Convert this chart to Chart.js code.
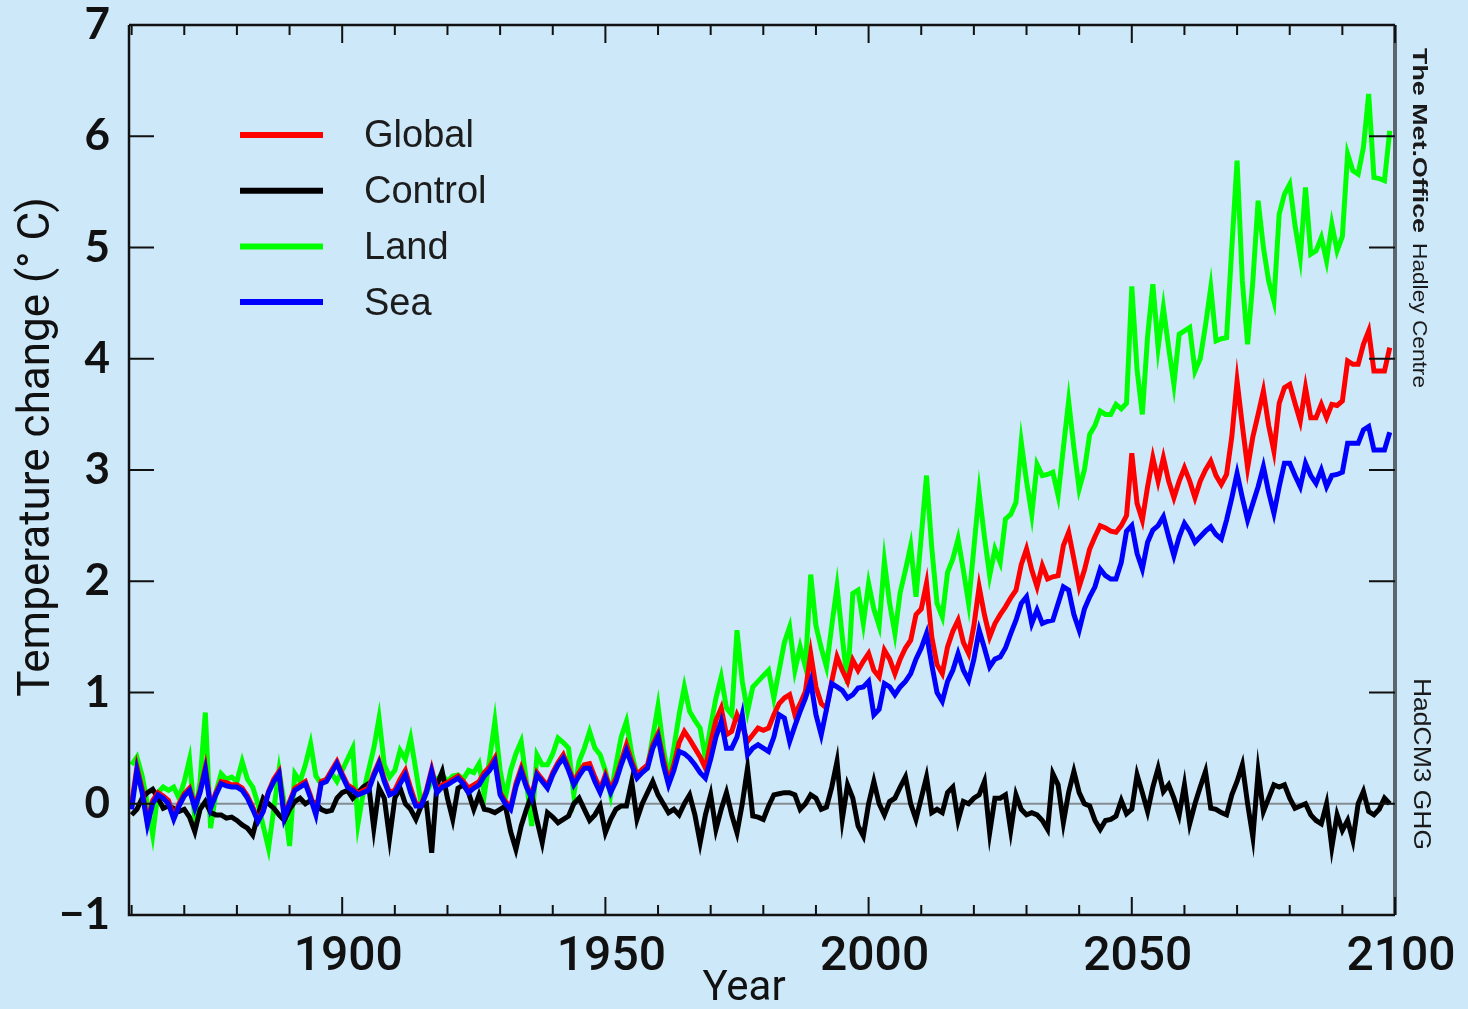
<!DOCTYPE html>
<html>
<head>
<meta charset="utf-8">
<title>HadCM3 GHG temperature change</title>
<script src="https://cdn.jsdelivr.net/npm/chart.js@4.4.1/dist/chart.umd.min.js"></script>
<style>
  html, body { margin: 0; padding: 0; background: #cde8f9; }
  #wrap { width: 1468px; height: 1009px; }
</style>
</head>
<body>
<div id="wrap"><canvas id="tempChart" width="1468" height="1009"></canvas></div>
<script>
// Annual values, 1860 .. 2099 (deg C)
const firstYear = 1860;

const globalSeries = [
  0.0, 0.33, 0.13, -0.16, 0.03, 0.1, 0.07, 0.03, -0.12, 0.0,
  0.09, 0.14, -0.02, 0.12, 0.33, -0.02, 0.1, 0.2, 0.19, 0.17,
  0.17, 0.14, 0.07, -0.03, -0.15, -0.06, 0.11, 0.22, 0.29, -0.11,
  0.02, 0.14, 0.17, 0.2, 0.07, -0.08, 0.2, 0.22, 0.3, 0.38,
  0.27, 0.17, 0.14, 0.09, 0.12, 0.14, 0.27, 0.38, 0.22, 0.1,
  0.12, 0.22, 0.3, 0.14, 0.0, -0.01, 0.12, 0.31, 0.12, 0.17,
  0.19, 0.22, 0.25, 0.2, 0.14, 0.17, 0.2, 0.28, 0.33, 0.41,
  0.1, 0.02, -0.03, 0.18, 0.32, 0.17, 0.07, 0.28, 0.22, 0.16,
  0.28, 0.37, 0.44, 0.32, 0.2, 0.28, 0.35, 0.36, 0.24, 0.13,
  0.26, 0.13, 0.23, 0.38, 0.53, 0.38, 0.26, 0.31, 0.35, 0.53,
  0.63, 0.4, 0.2, 0.35, 0.55, 0.65, 0.58, 0.5, 0.42, 0.32,
  0.55, 0.75, 0.86, 0.62, 0.65, 0.8, 0.7, 0.56, 0.62, 0.68,
  0.66, 0.68, 0.8, 0.9, 0.95, 0.98, 0.8, 0.9, 1.01, 1.35,
  1.05, 0.9, 0.86, 1.1, 1.32, 1.2, 1.1, 1.29, 1.2, 1.28,
  1.35, 1.2, 1.14, 1.38, 1.3, 1.17, 1.3, 1.4, 1.47, 1.7,
  1.75, 1.98, 1.5, 1.25, 1.17, 1.41, 1.55, 1.65, 1.45, 1.35,
  1.6, 1.95, 1.7, 1.5, 1.62, 1.7, 1.77, 1.85, 1.92, 2.15,
  2.29, 2.1, 1.95, 2.14, 2.02, 2.04, 2.05, 2.32, 2.44, 2.2,
  1.95, 2.1, 2.29, 2.4, 2.5, 2.48, 2.45, 2.44, 2.5, 2.59,
  3.15, 2.7, 2.55, 2.85, 3.11, 2.9, 3.11, 2.9, 2.75, 2.9,
  3.02, 2.9, 2.75, 2.9, 3.0, 3.08, 2.95, 2.87, 2.96, 3.3,
  3.8, 3.4, 3.02, 3.3, 3.5, 3.71, 3.4, 3.17, 3.6, 3.74,
  3.77, 3.6, 3.44, 3.74, 3.47, 3.47, 3.59, 3.47, 3.59, 3.58,
  3.62, 3.98, 3.95, 3.95, 4.13, 4.25, 3.89, 3.89, 3.89, 4.1
];

const controlSeries = [
  -0.1, -0.05, 0.05, 0.1, 0.13, 0.05, -0.04, -0.02, -0.04, -0.07,
  -0.05, -0.12, -0.25, -0.05, 0.02, -0.08, -0.1, -0.1, -0.13, -0.12,
  -0.15, -0.19, -0.22, -0.28, -0.1, 0.05, 0.0, -0.04, -0.1, -0.15,
  -0.05, 0.02, 0.05, 0.0, 0.03, 0.0, -0.05, -0.07, -0.06, 0.05,
  0.1, 0.12, 0.05, 0.1, 0.15, 0.18, -0.22, 0.14, 0.05, -0.31,
  0.05, 0.14, 0.0, -0.05, -0.14, -0.02, 0.0, -0.44, 0.17, 0.29,
  0.05, -0.14, 0.14, 0.17, 0.1, -0.05, 0.08, -0.05, -0.06, -0.08,
  -0.05, -0.02, -0.25, -0.41, -0.2, -0.05, 0.08, -0.15, -0.35, -0.08,
  -0.12, -0.17, -0.14, -0.11, 0.0, 0.05, -0.05, -0.15, -0.1, -0.02,
  -0.26, -0.14, -0.05, -0.02, -0.02, 0.2, -0.14, 0.0, 0.1, 0.2,
  0.08, 0.0, -0.08, -0.05, -0.1, 0.0, 0.08, -0.1, -0.35, -0.1,
  0.08, -0.23, -0.05, 0.1, -0.1, -0.26, 0.0, 0.32, -0.11, -0.12,
  -0.14, -0.02, 0.08, 0.09, 0.1, 0.1, 0.08, -0.05, 0.0, 0.08,
  0.05, -0.05, -0.03, 0.15, 0.38, -0.14, 0.17, 0.05, -0.2, -0.29,
  0.0, 0.2, 0.0, -0.1, 0.02, 0.05, 0.15, 0.24, 0.0, -0.14,
  0.05, 0.24, -0.08, -0.05, -0.08, 0.1, 0.15, -0.15, 0.02, 0.0,
  0.05, 0.08, 0.2, -0.26, 0.05, 0.05, 0.08, -0.24, 0.08, -0.05,
  -0.1, -0.08, -0.1, -0.15, -0.23, 0.27, 0.17, -0.17, 0.1, 0.29,
  0.1, 0.0, -0.02, -0.15, -0.23, -0.15, -0.14, -0.11, 0.03, -0.09,
  -0.05, 0.26, 0.1, -0.07, 0.15, 0.32, 0.11, 0.17, 0.05, -0.1,
  0.17, -0.18, 0.0, 0.15, 0.29, -0.04, -0.05, -0.08, -0.1, 0.08,
  0.2, 0.35, 0.0, -0.3, 0.29, -0.07, 0.05, 0.17, 0.15, 0.17,
  0.05, -0.04, -0.02, 0.0, -0.1, -0.15, -0.18, 0.0, -0.39, -0.1,
  -0.24, -0.15, -0.33, 0.0, 0.11, -0.07, -0.1, -0.05, 0.05, 0.0
];

const landSeries = [
  0.35, 0.42, 0.25, 0.0, -0.28, 0.1, 0.15, 0.12, 0.15, 0.05,
  0.2, 0.4, -0.13, 0.2, 0.82, -0.22, 0.1, 0.27, 0.22, 0.24,
  0.2, 0.38, 0.22, 0.15, 0.0, -0.2, -0.4, -0.05, 0.3, 0.0,
  -0.38, 0.27, 0.2, 0.35, 0.54, 0.25, 0.18, 0.22, 0.27, 0.2,
  0.3, 0.4, 0.5, -0.18, 0.1, 0.3, 0.5, 0.77, 0.35, 0.24,
  0.3, 0.48, 0.4, 0.59, 0.3, 0.0, 0.1, 0.2, 0.22, 0.26,
  0.2, 0.25, 0.26, 0.22, 0.3, 0.28, 0.36, 0.08, 0.4, 0.74,
  0.3, 0.05, 0.3, 0.45, 0.56, 0.2, -0.2, 0.44, 0.35, 0.35,
  0.45, 0.59, 0.55, 0.5, 0.08, 0.38, 0.5, 0.65, 0.5, 0.44,
  0.3, 0.08, 0.35, 0.6, 0.74, 0.45, 0.26, 0.3, 0.32, 0.6,
  0.88, 0.5, 0.23, 0.5, 0.8, 1.05, 0.83, 0.75, 0.68, 0.41,
  0.7, 0.95, 1.14, 0.86, 0.8, 1.56, 1.1, 0.83, 1.05, 1.1,
  1.15, 1.2, 0.95, 1.2, 1.45, 1.59, 1.2, 1.41, 1.23, 2.06,
  1.6, 1.4, 1.23, 1.6, 1.95, 1.5, 1.08, 1.89, 1.92, 1.62,
  1.98, 1.75, 1.6, 2.18, 1.8, 1.53, 1.9, 2.1, 2.32, 1.86,
  2.4, 2.95, 2.3, 1.8, 1.68, 2.08, 2.2, 2.38, 2.1, 1.8,
  2.3, 2.8, 2.4, 2.05, 2.29, 2.17, 2.56, 2.6, 2.71, 3.25,
  2.9, 2.6, 3.05, 2.95, 2.96, 2.98, 2.77, 3.2, 3.62, 3.2,
  2.83, 3.0, 3.32, 3.4, 3.53, 3.5, 3.5, 3.59, 3.55, 3.6,
  4.65, 3.9, 3.5, 4.2, 4.67, 4.1, 4.46, 4.1, 3.77, 4.22,
  4.25, 4.28, 3.89, 4.0, 4.3, 4.64, 4.16, 4.18, 4.19, 5.0,
  5.78, 4.7, 4.13, 4.7, 5.42, 5.0, 4.7, 4.52, 5.3, 5.48,
  5.57, 5.2, 4.91, 5.54, 4.94, 4.97, 5.09, 4.88, 5.21, 4.97,
  5.1, 5.84, 5.69, 5.66, 5.9, 6.38, 5.63, 5.62, 5.6, 6.05
];

const seaSeries = [
  -0.05, 0.3, 0.1, -0.19, 0.0, 0.08, 0.05, 0.0, -0.14, -0.02,
  0.07, 0.12, -0.04, 0.1, 0.3, -0.04, 0.08, 0.18, 0.16, 0.15,
  0.15, 0.12, 0.05, -0.05, -0.16, -0.07, 0.1, 0.2, 0.27, -0.13,
  0.0, 0.12, 0.15, 0.18, 0.05, -0.1, 0.18, 0.2, 0.28, 0.36,
  0.25, 0.15, 0.12, 0.08, 0.1, 0.12, 0.25, 0.36, 0.2, 0.08,
  0.1, 0.18, 0.26, 0.1, -0.02, -0.02, 0.1, 0.29, 0.1, 0.15,
  0.17, 0.2, 0.23, 0.18, 0.1, 0.14, 0.17, 0.25, 0.3, 0.38,
  0.08, 0.0, -0.05, 0.15, 0.29, 0.15, 0.05, 0.26, 0.2, 0.14,
  0.26, 0.35, 0.41, 0.3, 0.17, 0.25, 0.32, 0.32, 0.2, 0.1,
  0.23, 0.1, 0.2, 0.35, 0.48, 0.35, 0.23, 0.28, 0.32, 0.5,
  0.6, 0.35, 0.17, 0.3, 0.47, 0.45, 0.41, 0.35, 0.28, 0.23,
  0.4, 0.6, 0.74, 0.5, 0.5, 0.6, 0.8, 0.44, 0.5, 0.53,
  0.5, 0.47, 0.6, 0.8, 0.77, 0.56, 0.7, 0.83, 0.95, 1.1,
  0.8, 0.62, 0.85, 1.08, 1.05, 1.02, 0.95, 0.98, 1.04, 1.05,
  1.1, 0.8, 0.85, 1.08, 1.05, 0.98, 1.05, 1.1, 1.17, 1.3,
  1.4, 1.53, 1.25, 1.0, 0.92, 1.1, 1.2, 1.35, 1.2, 1.11,
  1.3, 1.56, 1.4, 1.23, 1.3, 1.32, 1.4, 1.53, 1.65, 1.8,
  1.86, 1.62, 1.74, 1.62, 1.64, 1.65, 1.8, 1.95, 1.92, 1.7,
  1.56, 1.75, 1.86, 1.95, 2.11, 2.05, 2.02, 2.02, 2.17, 2.45,
  2.5, 2.25, 2.11, 2.35, 2.46, 2.5, 2.58, 2.4, 2.23, 2.4,
  2.52, 2.45, 2.35, 2.4, 2.45, 2.49, 2.42, 2.38, 2.55, 2.75,
  2.97, 2.75, 2.55, 2.7, 2.85, 3.03, 2.8, 2.61, 2.85, 3.06,
  3.06, 2.95, 2.85, 3.06, 2.95, 2.88, 3.0, 2.85, 2.95, 2.96,
  2.98, 3.24, 3.24, 3.24, 3.36, 3.39, 3.18, 3.18, 3.18, 3.34
];

const yTicks = [-1, 0, 1, 2, 3, 4, 5, 6, 7];
const xLabelTicks = [1900, 1950, 2000, 2050, 2100];
const xMinorTicks = [1860, 1870, 1880, 1890, 1910, 1920, 1930, 1940, 1960, 1970, 1980, 1990,
                     2010, 2020, 2030, 2040, 2060, 2070, 2080, 2090];

const toPoints = arr => arr.map((v, i) => ({ x: firstYear + i, y: v }));

// draws text rotated to read downwards, stretched to a given length
function verticalText(ctx, text, font, cx, top, length) {
    ctx.save();
    ctx.font = font;
    const w = ctx.measureText(text).width;
    ctx.translate(cx, top);
    ctx.rotate(Math.PI / 2);
    ctx.scale(length / w, 1);
    ctx.textAlign = 'left';
    ctx.textBaseline = 'middle';
    ctx.fillStyle = '#1a1a1a';
    ctx.fillText(text, 0, 0);
    ctx.restore();
}

// Axes frame, inward ticks, zero line, legend and side captions
const decorations = {
    id: 'decorations',
    beforeDatasetsDraw(chart) {
        const { ctx, chartArea: a, scales: { y } } = chart;
        const y0 = y.getPixelForValue(0);
        ctx.save();
        ctx.strokeStyle = '#858d93';
        ctx.lineWidth = 2;
        ctx.beginPath();
        ctx.moveTo(a.left, y0);
        ctx.lineTo(a.right, y0);
        ctx.stroke();
        ctx.restore();
    },
    afterDatasetsDraw(chart) {
        const { ctx, chartArea: a, scales: { x, y } } = chart;
        ctx.save();

        // frame
        ctx.strokeStyle = '#111';
        ctx.lineWidth = 2.5;
        ctx.beginPath();
        ctx.moveTo(a.left, a.top);
        ctx.lineTo(a.left, a.bottom);
        ctx.lineTo(a.right, a.bottom);
        ctx.moveTo(a.left, a.top);
        ctx.lineTo(a.right, a.top);
        ctx.stroke();
        ctx.strokeStyle = '#5b666e';
        ctx.lineWidth = 4;
        ctx.beginPath();
        ctx.moveTo(a.right, a.top);
        ctx.lineTo(a.right, a.bottom);
        ctx.stroke();

        // y ticks, pointing inwards on both sides
        ctx.strokeStyle = '#111';
        ctx.lineWidth = 2;
        ctx.beginPath();
        yTicks.forEach(v => {
            const py = y.getPixelForValue(v);
            ctx.moveTo(a.left, py);
            ctx.lineTo(a.left + 25, py);
            ctx.moveTo(a.right, py);
            ctx.lineTo(a.right - 26, py);
        });
        // x ticks, bottom and top
        xLabelTicks.forEach(v => {
            const px = x.getPixelForValue(v);
            ctx.moveTo(px, a.bottom);
            ctx.lineTo(px, a.bottom - 18);
            ctx.moveTo(px, a.top);
            ctx.lineTo(px, a.top + 18);
        });
        xMinorTicks.forEach(v => {
            const px = x.getPixelForValue(v);
            ctx.moveTo(px, a.bottom);
            ctx.lineTo(px, a.bottom - 10);
            ctx.moveTo(px, a.top);
            ctx.lineTo(px, a.top + 10);
        });
        ctx.stroke();

        // legend
        const legendOrder = [0, 1, 2, 3];
        ctx.font = '38px "Liberation Sans", Arial, sans-serif';
        ctx.textBaseline = 'middle';
        ctx.textAlign = 'left';
        legendOrder.forEach((idx, row) => {
            const ds = chart.data.datasets[idx];
            const ly = 135 + row * 55.7;
            ctx.strokeStyle = ds.borderColor;
            ctx.lineWidth = 6;
            ctx.beginPath();
            ctx.moveTo(240, ly);
            ctx.lineTo(323, ly);
            ctx.stroke();
            ctx.fillStyle = '#1c1c1c';
            ctx.fillText(ds.label, 364, ly + 2);
        });

        // axis titles
        ctx.fillStyle = '#111';
        ctx.textAlign = 'center';
        ctx.font = '42px Roboto, "Open Sans", sans-serif';
        ctx.fillText('Year', 744, 989);
        ctx.save();
        ctx.translate(38, 447);
        ctx.rotate(-Math.PI / 2);
        ctx.font = '44px Roboto, "Open Sans", sans-serif';
        ctx.fillText('Temperature change (\u00b0 C)', 0, 0);
        ctx.restore();

        // captions on the right, reading downwards
        verticalText(ctx, 'The Met.Office', 'bold 20px "Liberation Sans", Arial, sans-serif', 1419, 48, 185);
        verticalText(ctx, 'Hadley Centre', '20px "Liberation Sans", Arial, sans-serif', 1419, 243, 145);
        verticalText(ctx, 'HadCM3 GHG', '24px "Liberation Sans", Arial, sans-serif', 1421, 678, 172);

        ctx.restore();
    }
};

const ctx = document.getElementById('tempChart').getContext('2d');
new Chart(ctx, {
    type: 'line',
    data: {
        datasets: [
            { label: 'Global', data: toPoints(globalSeries), borderColor: '#ff0000', order: 1 },
            { label: 'Control', data: toPoints(controlSeries), borderColor: '#000000', order: 2 },
            { label: 'Land', data: toPoints(landSeries), borderColor: '#00ff00', order: 3 },
            { label: 'Sea', data: toPoints(seaSeries), borderColor: '#0000ff', order: 0 }
        ]
    },
    options: {
        responsive: false,
        animation: false,
        layout: { padding: { left: 0, top: 25, right: 73, bottom: 0 } },
        elements: {
            line: { borderWidth: 5, tension: 0, fill: false },
            point: { radius: 0, hoverRadius: 0 }
        },
        plugins: {
            legend: { display: false },
            tooltip: { enabled: false }
        },
        scales: {
            x: {
                type: 'linear',
                min: 1859.5,
                max: 2100,
                afterBuildTicks: s => { s.ticks = xLabelTicks.map(v => ({ value: v })); },
                afterFit: s => { s.height = 94; s.paddingLeft = 0; s.paddingRight = 0; },
                grid: { display: false },
                border: { display: false },
                ticks: {
                    padding: 6,
                    labelOffset: 6,
                    maxRotation: 0,
                    color: '#111',
                    font: { family: 'Roboto, "Open Sans", sans-serif', size: 48, weight: '500' },
                    callback: v => String(v)
                }
            },
            y: {
                min: -1,
                max: 7,
                afterBuildTicks: s => { s.ticks = yTicks.map(v => ({ value: v })); },
                afterFit: s => { s.width = 129; s.paddingTop = 0; s.paddingBottom = 0; },
                grid: { display: false },
                border: { display: false },
                ticks: {
                    padding: 11,
                    color: '#111',
                    font: { family: 'Lato, sans-serif', size: 44, weight: 'bold' },
                    callback: v => (v < 0 ? '\u2212' + Math.abs(v) : String(v))
                }
            }
        }
    },
    plugins: [decorations]
});
</script>
</body>
</html>
